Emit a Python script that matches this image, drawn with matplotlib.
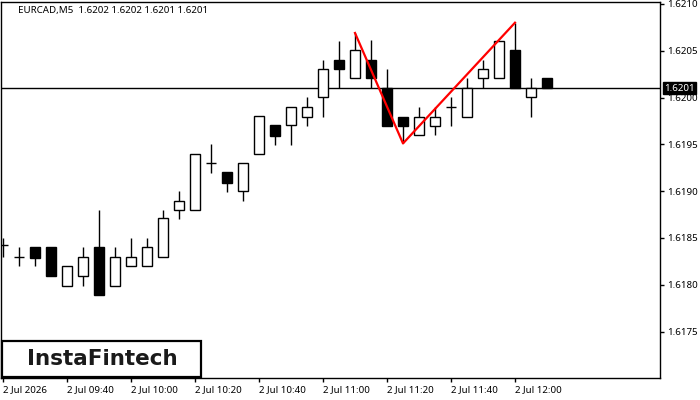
import matplotlib.pyplot as plt
from matplotlib.patches import Rectangle
import numpy as np

plt.rcParams['font.family'] = ['Noto Sans', 'DejaVu Sans']

# chart data (EURCAD M5)
chart_title = "EURCAD,M5  1.6202 1.6202 1.6201 1.6201"
tick_pos = [0, 4, 8, 12, 16, 20, 24, 28, 32]
tick_labels = ["2 Jul 2026", "2 Jul 09:40", "2 Jul 10:00", "2 Jul 10:20",
               "2 Jul 10:40", "2 Jul 11:00", "2 Jul 11:20", "2 Jul 11:40",
               "2 Jul 12:00"]

opens = [1.61842, 1.61830, 1.61840, 1.61840, 1.61799, 1.61809, 1.61840, 1.61799,
         1.61820, 1.61820, 1.61830, 1.61880, 1.61880, 1.61930, 1.61921, 1.61900,
         1.61940, 1.61971, 1.61971, 1.61979, 1.62001, 1.62040, 1.62021, 1.62040,
         1.62010, 1.61979, 1.61960, 1.61970, 1.61990, 1.61979, 1.62021, 1.62021,
         1.62051, 1.62001, 1.62021]
highs = [1.61850, 1.61840, 1.61840, 1.61840, 1.61820, 1.61840, 1.61880, 1.61840,
         1.61850, 1.61850, 1.61880, 1.61900, 1.61940, 1.61950, 1.61921, 1.61930,
         1.61980, 1.61971, 1.61990, 1.62001, 1.62040, 1.62060, 1.62069, 1.62062,
         1.62031, 1.61979, 1.61990, 1.61990, 1.62001, 1.62021, 1.62040, 1.62060,
         1.62080, 1.62021, 1.62021]
lows = [1.61830, 1.61820, 1.61820, 1.61809, 1.61799, 1.61799, 1.61789, 1.61799,
        1.61820, 1.61820, 1.61830, 1.61870, 1.61880, 1.61919, 1.61899, 1.61890,
        1.61940, 1.61949, 1.61949, 1.61970, 1.61979, 1.62010, 1.62021, 1.62010,
        1.61970, 1.61951, 1.61960, 1.61960, 1.61970, 1.61979, 1.62010, 1.62021,
        1.62010, 1.61979, 1.62010]
closes = [1.61842, 1.61830, 1.61829, 1.61809, 1.61820, 1.61830, 1.61789, 1.61830,
          1.61830, 1.61840, 1.61871, 1.61890, 1.61940, 1.61930, 1.61909, 1.61930,
          1.61980, 1.61959, 1.61990, 1.61990, 1.62031, 1.62031, 1.62051, 1.62021,
          1.61970, 1.61970, 1.61979, 1.61979, 1.61990, 1.62010, 1.62031, 1.62060,
          1.62010, 1.62010, 1.62010]

last_price = 1.6201
pattern_idx = [22, 25, 32]
pattern_price = [1.62069, 1.61951, 1.62080]

fig = plt.figure(figsize=(7, 4), dpi=100)
ax = fig.add_axes([1 / 700, 22 / 400, 659 / 700, 376 / 400])

x = np.arange(len(opens))
o = np.array(opens)
c = np.array(closes)

ax.vlines(x, lows, highs, color="black", lw=1, zorder=2)
body_w = 0.625
for i in x:
    if abs(c[i] - o[i]) < 1e-6:
        ax.hlines(o[i], i - body_w / 2, i + body_w / 2, color="black", lw=1, zorder=3)
    else:
        face = "white" if c[i] > o[i] else "black"
        ax.bar(i, abs(c[i] - o[i]), bottom=min(o[i], c[i]), width=body_w,
               facecolor=face, edgecolor="black", lw=1, zorder=3)

ax.axhline(last_price, color="black", lw=1, zorder=1)
ax.plot(pattern_idx, pattern_price, color="#ff0000", lw=1.6, zorder=4)

ax.set_xlim(-0.125, 41.0625)
ax.set_ylim(1.617004, 1.621021)

ax.yaxis.tick_right()
ax.set_yticks(np.arange(1.6175, 1.62101, 0.0005))
ax.set_yticklabels(["%.4f" % v for v in np.arange(1.6175, 1.62101, 0.0005)])
ax.tick_params(axis="y", direction="out", length=3, width=1, pad=2, labelsize=7)
ax.set_xticks(tick_pos)
ax.set_xticklabels(tick_labels, ha="left")
ax.tick_params(axis="x", direction="out", length=3, width=1, pad=2, labelsize=7)
for s in ax.spines.values():
    s.set_linewidth(1)

# current price tag
ax.annotate("%.4f" % last_price, xy=(1, last_price), xycoords=("axes fraction", "data"),
            xytext=(3, 0), textcoords="offset points", va="center", ha="left",
            fontsize=7, color="white",
            bbox=dict(boxstyle="square,pad=0.15", facecolor="black", edgecolor="black"),
            zorder=10, annotation_clip=False)

fig.text(18 / 700, (400 - 11) / 400, chart_title, fontsize=7, va="center", ha="left")

# logo
fig.add_artist(Rectangle((2 / 700, 23 / 400), 199 / 700, 36 / 400, transform=fig.transFigure,
                         facecolor="white", edgecolor="black", lw=1.6, zorder=20))
fig.text(102 / 700, 41 / 400, "InstaFintech", fontsize=15.5, family="DejaVu Sans",
         fontweight="bold", ha="center", va="center", color="#1a1a1a", zorder=21)

fig.savefig("out.png", dpi=100)
